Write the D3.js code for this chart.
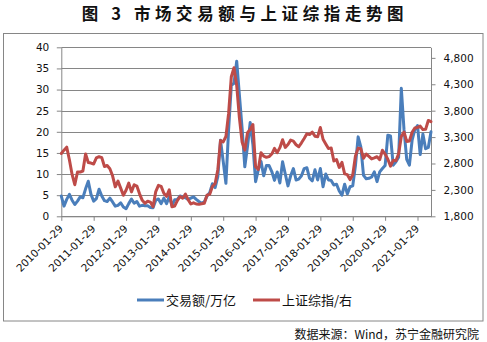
<!DOCTYPE html>
<html>
<head>
<meta charset="utf-8">
<script src="https://cdn.jsdelivr.net/npm/d3@7/dist/d3.min.js"></script>
<style>
  html, body { margin: 0; padding: 0; background: #fff; }
  svg { display: block; }
  .tick text { font-family: "DejaVu Sans", Verdana, sans-serif; font-size: 10.5px; fill: #111; }
</style>
</head>
<body>
<svg id="chart" width="487" height="342"></svg>
<script>
// Monthly A-share turnover (trillion yuan) and SSE Composite month-end close, 2010-01 .. 2021-06
const volume2010 = [4.8, 2.4, 4.0, 5.2, 3.8, 2.8, 3.6, 4.6, 4.4, 6.5, 8.3, 5.2];
const volume2011 = [3.6, 4.2, 6.4, 4.8, 3.7, 3.5, 4.3, 3.4, 2.4, 2.6, 3.2, 2.2];
const volume2012 = [1.8, 3.0, 4.1, 3.1, 3.5, 2.4, 2.6, 2.5, 2.5, 2.1, 2.0, 3.8];
const volume2013 = [4.1, 3.0, 4.3, 3.0, 4.6, 2.6, 3.9, 4.0, 4.8, 4.6, 4.4, 4.0];
const volume2014 = [4.3, 4.6, 4.0, 3.5, 3.1, 3.4, 4.8, 5.6, 7.7, 6.8, 9.4, 18.0];
const volume2015 = [13.0, 7.8, 20.5, 31.0, 31.5, 36.7, 28.7, 20.8, 11.7, 16.5, 22.2, 17.0];
const volume2016 = [8.2, 11.0, 13.0, 9.6, 12.0, 12.0, 10.6, 8.5, 10.5, 7.9, 12.9, 10.0];
const volume2017 = [7.2, 9.6, 11.3, 8.6, 8.8, 9.6, 11.3, 11.5, 9.0, 8.4, 11.0, 8.6];
const volume2018 = [11.3, 7.0, 10.0, 8.6, 8.5, 7.4, 7.6, 6.0, 5.0, 7.6, 5.3, 7.0];
const volume2019 = [7.2, 12.0, 18.8, 16.4, 9.7, 8.9, 9.0, 9.3, 10.5, 8.2, 10.5, 11.3];
const volume2020 = [12.0, 19.2, 19.0, 12.1, 12.9, 14.0, 30.3, 20.5, 13.5, 12.1, 18.0, 20.5];
const volume2021 = [21.5, 14.6, 19.5, 16.0, 16.3, 20.0];

const sse2010 = [2989, 3052, 3109, 2871, 2592, 2398, 2638, 2639, 2656, 2979, 2820, 2808];
const sse2011 = [2791, 2905, 2928, 2912, 2743, 2762, 2702, 2567, 2359, 2468, 2333, 2199];
const sse2012 = [2293, 2429, 2263, 2397, 2373, 2225, 2103, 2047, 2086, 2069, 1980, 2269];
const sse2013 = [2385, 2366, 2237, 2178, 2301, 1979, 1994, 2098, 2175, 2141, 2220, 2116];
const sse2014 = [2033, 2056, 2033, 2026, 2039, 2048, 2202, 2217, 2364, 2420, 2683, 3235];
const sse2015 = [3210, 3310, 3748, 4442, 4612, 4277, 3664, 3206, 3053, 3383, 3445, 3539];
const sse2016 = [2738, 2688, 3004, 2938, 2917, 2930, 2979, 3085, 3005, 3100, 3250, 3104];
const sse2017 = [3159, 3242, 3223, 3155, 3117, 3192, 3273, 3361, 3349, 3393, 3317, 3307];
const sse2018 = [3481, 3259, 3169, 3082, 3095, 2847, 2876, 2725, 2821, 2603, 2588, 2494];
const sse2019 = [2585, 2941, 3091, 3078, 2899, 2979, 2933, 2886, 2905, 2929, 2872, 3050];
const sse2020 = [2977, 2880, 2750, 2860, 2852, 2985, 3310, 3396, 3218, 3225, 3392, 3473];
const sse2021 = [3483, 3509, 3442, 3447, 3615, 3591];

const yearTickLabels = ["2010-01-29", "2011-01-29", "2012-01-29", "2013-01-29", "2014-01-29", "2015-01-29",
                        "2016-01-29", "2017-01-29", "2018-01-29", "2019-01-29", "2020-01-29", "2021-01-29"];
const leftTicks = [0, 5, 10, 15, 20, 25, 30, 35, 40];
const rightTicks = [1800, 2300, 2800, 3300, 3800, 4300, 4800];

const titleText = "图 3 市场交易额与上证综指走势图";
const seriesNames = ["交易额/万亿", "上证综指/右"];
const sourceText = "数据来源：Wind，苏宁金融研究院";

const volume = [].concat(volume2010, volume2011, volume2012, volume2013, volume2014, volume2015,
                         volume2016, volume2017, volume2018, volume2019, volume2020, volume2021);
const sse = [].concat(sse2010, sse2011, sse2012, sse2013, sse2014, sse2015,
                      sse2016, sse2017, sse2018, sse2019, sse2020, sse2021);

// Month categories for the x axis
const fmtMonth = d3.timeFormat("%Y-%m");
const months = d3.timeMonths(new Date(2010, 0, 1), new Date(2021, 6, 1)).map(fmtMonth);

const svg = d3.select("#chart");
const gridColor = "#868686";
const blue = "#4a7ebb";
const red = "#be4b48";

const plot = { left: 61.3, right: 431, top: 47.3, bottom: 216.3 };

// Outer frame
svg.append("rect")
  .attr("x", 3.5).attr("y", 33.5).attr("width", 479.5).attr("height", 287.5)
  .attr("fill", "none").attr("stroke", gridColor).attr("stroke-width", 1);

// Title
svg.append("text")
  .attr("x", 245).attr("y", 19.5)
  .attr("text-anchor", "middle")
  .attr("font-family", "'Noto Sans CJK SC', sans-serif")
  .attr("font-weight", 700)
  .attr("font-size", 16.5)
  .attr("letter-spacing", 4.6)
  .attr("fill", "#111")
  .text(titleText);

const x = d3.scalePoint().domain(months).range([plot.left, plot.right]);
const yL = d3.scaleLinear().domain([0, 40]).range([plot.bottom, plot.top]);
const yR = d3.scaleLinear().domain([1800, 5000]).range([plot.bottom, plot.top]);

// Horizontal gridlines
svg.append("g").selectAll("line").data(leftTicks).join("line")
  .attr("x1", plot.left).attr("x2", plot.right)
  .attr("y1", d => Math.round(yL(d)) + 0.5).attr("y2", d => Math.round(yL(d)) + 0.5)
  .attr("stroke", gridColor).attr("stroke-width", 1);

// Left axis
const gL = svg.append("g").attr("transform", `translate(${plot.left},0)`)
  .call(d3.axisLeft(yL).tickValues(leftTicks).tickSize(4.5).tickSizeOuter(0).tickPadding(7.5));
// Right axis
const gR = svg.append("g").attr("transform", `translate(${plot.right},0)`)
  .call(d3.axisRight(yR).tickValues(rightTicks).tickFormat(d3.format(",")).tickSize(4.5).tickSizeOuter(0).tickPadding(8));
// Bottom axis
const janMonths = months.filter(m => m.endsWith("-01"));
const gB = svg.append("g").attr("transform", `translate(0,${plot.bottom})`)
  .call(d3.axisBottom(x).tickValues(janMonths)
    .tickFormat((d, i) => yearTickLabels[i]).tickSize(4.5).tickSizeOuter(0));
gB.selectAll(".tick text")
  .attr("text-anchor", "end")
  .attr("transform", "translate(2,13) rotate(-45)")
  .attr("x", 0).attr("y", 0).attr("dy", 0);

[gL, gR, gB].forEach(g => {
  g.select(".domain").attr("stroke", gridColor);
  g.selectAll(".tick line").attr("stroke", gridColor);
});

// Series lines
const volLine = d3.line().x((d, i) => x(months[i])).y(d => yL(d));
const sseLine = d3.line().x((d, i) => x(months[i])).y(d => yR(d));

svg.append("path").datum(volume)
  .attr("d", volLine).attr("fill", "none")
  .attr("stroke", blue).attr("stroke-width", 3)
  .attr("stroke-linejoin", "round").attr("stroke-linecap", "round");
svg.append("path").datum(sse)
  .attr("d", sseLine).attr("fill", "none")
  .attr("stroke", red).attr("stroke-width", 3)
  .attr("stroke-linejoin", "round").attr("stroke-linecap", "round");

// Legend
const legend = [
  { name: seriesNames[0], color: blue, x: 137 },
  { name: seriesNames[1], color: red, x: 253 }
];
const lg = svg.append("g");
legend.forEach(l => {
  lg.append("line").attr("x1", l.x).attr("x2", l.x + 27).attr("y1", 300).attr("y2", 300)
    .attr("stroke", l.color).attr("stroke-width", 3);
  lg.append("text").attr("x", l.x + 29).attr("y", 304.5)
    .attr("font-family", "'Noto Sans CJK SC', sans-serif").attr("font-size", 13)
    .attr("fill", "#111").text(l.name);
});

// Source note
svg.append("text")
  .attr("x", 479).attr("y", 338.5)
  .attr("text-anchor", "end")
  .attr("font-family", "'Noto Sans CJK SC', sans-serif").attr("font-size", 12)
  .attr("fill", "#111").text(sourceText);
</script>
</body>
</html>
